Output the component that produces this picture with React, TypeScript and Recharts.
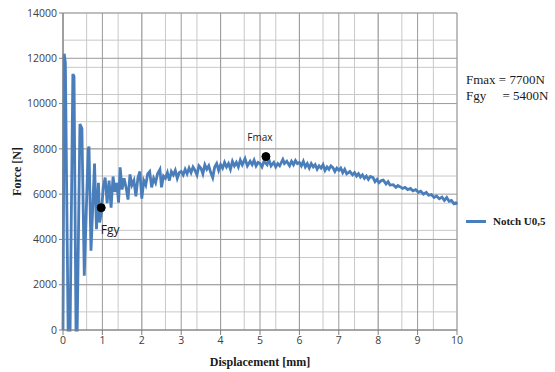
import React from 'react'
import {
  LineChart,
  Line,
  XAxis,
  YAxis,
  CartesianGrid,
  ReferenceDot,
} from 'recharts'

// displacement [mm]
const displacement = [
  0, 0.03, 0.06, 0.13, 0.18, 0.25, 0.28, 0.33, 0.36, 0.43, 0.48, 0.54, 0.64, 0.66, 0.71, 0.8,
  0.85, 0.9, 0.93, 0.98, 1.02, 1.07, 1.12, 1.17, 1.22, 1.27, 1.32, 1.37, 1.41, 1.45, 1.5, 1.55,
  1.6, 1.65, 1.7, 1.75, 1.8, 1.85, 1.9, 1.95, 2.0, 2.05, 2.1, 2.15, 2.2, 2.25, 2.3, 2.35, 2.4,
  2.46, 2.5, 2.55, 2.6, 2.65, 2.7, 2.75, 2.8, 2.85, 2.9, 2.95, 3.0, 3.05, 3.1, 3.15, 3.2, 3.25,
  3.3, 3.35, 3.4, 3.45, 3.5, 3.55, 3.6, 3.65, 3.7, 3.75, 3.8, 3.85, 3.9, 3.95, 4.0, 4.05, 4.1,
  4.15, 4.2, 4.25, 4.3, 4.35, 4.4, 4.45, 4.5, 4.55, 4.62, 4.68, 4.75, 4.8, 4.85, 4.9, 4.95, 5.0,
  5.05, 5.1, 5.18, 5.22, 5.28, 5.35, 5.4, 5.45, 5.5, 5.58, 5.62, 5.68, 5.75, 5.8, 5.85, 5.9,
  5.95, 6.0, 6.05, 6.1, 6.15, 6.2, 6.25, 6.3, 6.35, 6.4, 6.45, 6.5, 6.55, 6.6, 6.65, 6.7, 6.75,
  6.8, 6.85, 6.9, 6.95, 7.0, 7.05, 7.1, 7.15, 7.2, 7.28, 7.35, 7.4, 7.45, 7.5, 7.55, 7.6, 7.65,
  7.7, 7.75, 7.8, 7.87, 7.92, 7.97, 8.02, 8.08, 8.13, 8.2, 8.25, 8.3, 8.38, 8.45, 8.5, 8.55,
  8.62, 8.68, 8.75, 8.82, 8.88, 8.95, 9.02, 9.08, 9.15, 9.22, 9.28, 9.35, 9.42, 9.48, 9.55,
  9.62, 9.68, 9.74, 9.8, 9.86, 9.92, 9.97, 10.0,
]

// force [N], Notch U0,5
const force = [
  0, 12200, 11800, 0, 0, 11300, 11200, 0, 0, 9100, 8900, 2400, 8000, 8100, 3500, 7350,
  4450, 6500, 4750, 5250, 6300, 6730, 5600, 6600, 5400, 6780, 6100, 6500, 5620, 7180, 6200, 6700,
  6300, 5760, 6870, 6400, 6600, 5900, 6700, 7000, 5800, 6600, 6400, 6900, 7000, 6300, 6700, 6500, 6900,
  7090, 6300, 6800, 6700, 6950, 6600, 7000, 6850, 7050, 6700, 6950, 7000, 6850, 7100, 6900, 7150, 6950,
  7200, 7050, 6850, 7250, 7150, 6900, 7300, 7100, 7250, 6950, 6730, 7200, 7350, 7050, 7300, 7150, 7400,
  7200, 7350, 7100, 7450, 7250, 7400, 7200, 7500, 7300, 7570, 7250, 7450, 7300, 7500, 7250, 7400, 7350,
  7200, 7450, 7300, 7550, 7250, 7400, 7200, 7350, 7250, 7530, 7350, 7450, 7250, 7450, 7300, 7480,
  7350, 7400, 7250, 7450, 7200, 7350, 7150, 7350, 7200, 7300, 7100, 7250, 7150, 7300, 7050, 7200, 7100,
  7250, 7170, 7000, 7150, 7050, 7150, 6950, 7100, 6900, 7000, 6850, 6950, 6800, 6900, 6750, 6850, 6700,
  6800, 6650, 6780, 6730, 6550, 6650, 6500, 6600, 6620, 6450, 6550, 6400, 6420, 6300, 6380, 6330,
  6250, 6300, 6200, 6250, 6150, 6200, 6080, 6130, 6000, 6080, 5950, 5980, 5850, 5920, 5800,
  5870, 5720, 5850, 5680, 5720, 5580, 5620, 5540,
]

const xTicks = [0, 1, 2, 3, 4, 5, 6, 7, 8, 9, 10]
const yTicks = [0, 2000, 4000, 6000, 8000, 10000, 12000, 14000]

const fmax = { x: 5.15, y: 7660 }
const fgy = { x: 0.97, y: 5400 }

const data = displacement.map((d, i) => ({ d, f: force[i] }))

// minor grid every 0.2 mm / 400 N
const minorX = Array.from({ length: 51 }, (_, i) => +(i * 0.2).toFixed(1))
const minorY = Array.from({ length: 36 }, (_, i) => i * 400)

const tickStyle = { fontFamily: 'Open Sans, sans-serif', fontSize: 10.5, fill: '#404040' }
const serif = 'Liberation Serif, serif'

export default function App() {
  return (
    <div style={{ position: 'absolute', left: 0, top: 0, width: 555, height: 372, background: '#fff' }}>
      <LineChart width={555} height={372} data={data} margin={{ top: 13, right: 98, left: 13, bottom: 22 }}>
        <CartesianGrid stroke="#c8c8c8" strokeWidth={1} verticalValues={minorX} horizontalValues={minorY} />
        <CartesianGrid stroke="#9a9a9a" strokeWidth={1} verticalValues={xTicks} horizontalValues={yTicks} />
        <XAxis
          dataKey="d"
          type="number"
          domain={[0, 10]}
          ticks={xTicks}
          height={20}
          tick={tickStyle}
          tickSize={5}
          stroke="#808080"
          label={{
            value: 'Displacement [mm]',
            position: 'insideBottom',
            offset: -16,
            style: { fontFamily: serif, fontWeight: 'bold', fontSize: 12, fill: '#1a1a1a' },
          }}
        />
        <YAxis
          type="number"
          domain={[0, 14000]}
          ticks={yTicks}
          width={50}
          tick={tickStyle}
          tickSize={4}
          stroke="#808080"
          label={{
            value: 'Force [N]',
            angle: -90,
            position: 'insideLeft',
            offset: 4,
            style: { fontFamily: serif, fontWeight: 'bold', fontSize: 12, fill: '#1a1a1a', textAnchor: 'middle' },
          }}
        />
        <Line
          type="linear"
          dataKey="f"
          stroke="#4a7ebb"
          strokeWidth={2.8}
          dot={false}
          isAnimationActive={false}
        />
        <ReferenceDot
          x={fmax.x}
          y={fmax.y}
          r={4}
          fill="#000"
          stroke="#000"
          label={{ value: 'Fmax', position: 'top', offset: 12, dx: -6, style: { fontFamily: 'Open Sans, sans-serif', fontSize: 10, fill: '#1a1a1a' } }}
        />
        <ReferenceDot
          x={fgy.x}
          y={fgy.y}
          r={4}
          fill="#000"
          stroke="#000"
          label={{ value: 'Fgy', position: 'bottom', offset: 14, dx: 9, style: { fontFamily: 'Open Sans, sans-serif', fontSize: 12, fill: '#1a1a1a' } }}
        />
      </LineChart>
      <div
        style={{
          position: 'absolute',
          left: 466,
          top: 72,
          fontFamily: serif,
          fontSize: 13,
          lineHeight: '16px',
          color: '#1a1a1a',
          whiteSpace: 'pre',
        }}
      >
        {'Fmax = 7700N\nFgy     = 5400N'}
      </div>
      <div style={{ position: 'absolute', left: 466, top: 215, display: 'flex', alignItems: 'center' }}>
        <div style={{ width: 20, height: 3, background: '#4a7ebb', marginRight: 7 }} />
        <span style={{ fontFamily: serif, fontWeight: 'bold', fontSize: 11, color: '#1a1a1a' }}>Notch U0,5</span>
      </div>
    </div>
  )
}
